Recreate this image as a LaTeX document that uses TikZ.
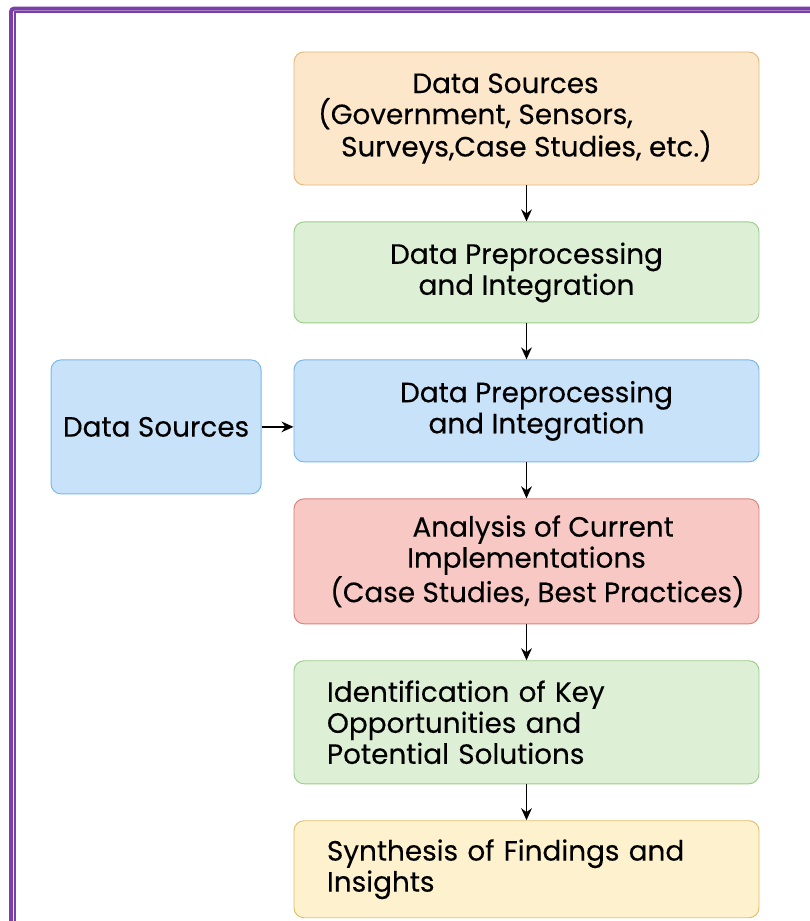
\documentclass[tikz,border=0pt]{standalone}
\usepackage{fontspec}
\setmainfont{Poppins}[FakeBold=0.3]
\usetikzlibrary{arrows.meta, positioning}
\definecolor{framepurple}{RGB}{123,63,168}
\definecolor{srcfill}{RGB}{253,231,202}
\definecolor{srcdraw}{RGB}{227,183,122}
\definecolor{prepfill}{RGB}{221,240,214}
\definecolor{prepdraw}{RGB}{154,205,136}
\definecolor{integfill}{RGB}{199,226,249}
\definecolor{integdraw}{RGB}{120,182,234}
\definecolor{anafill}{RGB}{248,201,196}
\definecolor{anadraw}{RGB}{217,129,122}
\definecolor{synfill}{RGB}{254,242,206}
\definecolor{syndraw}{RGB}{226,190,106}

\begin{document}
\begin{tikzpicture}[
        x=0.03cm, y=-0.03cm,
        node distance=1.08cm,
        stage/.style={rectangle, draw, rounded corners=0.3cm, minimum width=13.95cm, line width=0.8pt, align=center, font=\fontsize{23.8}{26.5}\selectfont},
        flow/.style={-{Stealth[length=0.36cm, width=0.32cm]}, line width=1.5pt, black}
    ]
        \useasboundingbox (0,0) rectangle (810,921);

        % double purple frame, open to the right and bottom
        \draw[framepurple, line width=0.12cm, rounded corners=0.1cm] (11,930) -- (11,8.5) -- (820,8.5);
        \draw[framepurple, line width=0.045cm] (14.8,930) -- (14.8,12) -- (820,12);

        \node[stage, fill=srcfill, draw=srcdraw, minimum height=3.99cm] (sources) at (526.5,118.5) {Data Sources\kern1.26cm\\(Government, Sensors,\kern3.06cm\\Surveys,Case Studies, etc.)};
        \node[stage, fill=prepfill, draw=prepdraw, minimum height=3.03cm, below=of sources] (prep) {Data Preprocessing\\and Integration};
        \node[stage, fill=integfill, draw=integdraw, minimum height=3.06cm, below=of prep] (integ) {\kern0.6cm Data Preprocessing\\\kern0.6cm and Integration};
        \node[stage, fill=anafill, draw=anadraw, minimum height=3.75cm, below=of integ] (analysis) {\kern1cm Analysis of Current\\Implementations\\\kern0.66cm(Case Studies, Best Practices)};
        \node[stage, fill=prepfill, draw=prepdraw, minimum height=3.69cm, below=of analysis, align=left, text width=11.97cm, inner xsep=0.99cm] (ident) {Identification of Key\\Opportunities and\\Potential Solutions};
        \node[stage, fill=synfill, draw=syndraw, minimum height=2.91cm, below=of ident, align=left, text width=11.97cm, inner xsep=0.99cm] (synth) {Synthesis of Findings and\\Insights};

        \node[stage, fill=integfill, draw=integdraw, minimum width=6.3cm, minimum height=4.02cm, anchor=north east] (feed) at ([xshift=-0.96cm]integ.north west) {Data Sources};

        \draw[flow] (sources) -- (prep);
        \draw[flow] (prep) -- (integ);
        \draw[flow] (integ) -- (analysis);
        \draw[flow] (analysis) -- (ident);
        \draw[flow] (ident) -- (synth);
        \draw[flow] (feed.east) -- (feed.east -| integ.west);
    \end{tikzpicture}
\end{document}
